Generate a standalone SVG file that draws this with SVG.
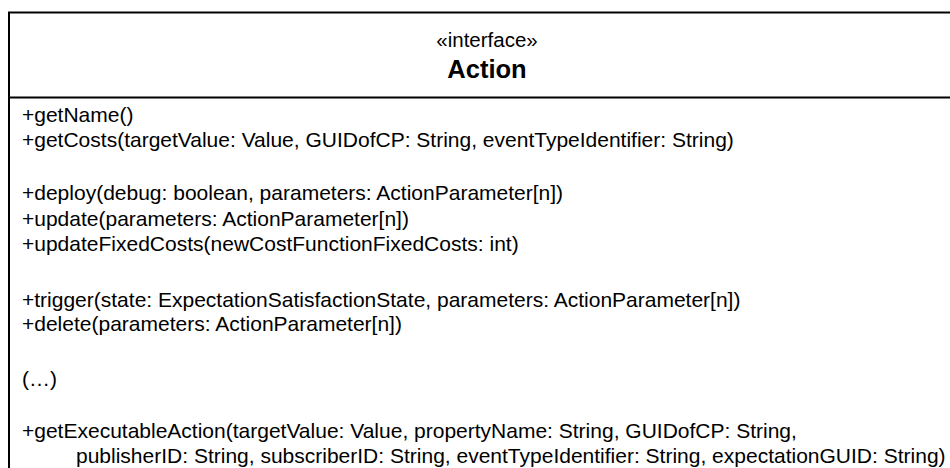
<svg xmlns="http://www.w3.org/2000/svg" width="950" height="468" viewBox="0 0 950 468">
  <style>
    .box { fill: #ffffff; stroke: #000000; stroke-width: 2; }
    .sep { stroke: #000000; stroke-width: 2; }
    .op { font-family: "Liberation Sans", Arial, Helvetica, sans-serif; font-size: 21px; fill: #000000; }
    .stereo { font-family: "Liberation Sans", Arial, Helvetica, sans-serif; font-size: 20.5px; fill: #000000; text-anchor: middle; }
    .name { font-family: "Liberation Sans", Arial, Helvetica, sans-serif; font-size: 25.5px; font-weight: bold; fill: #000000; text-anchor: middle; }
  </style>
  <rect x="0" y="0" width="950" height="468" fill="#ffffff"/>
  <g id="Action">
    <rect class="box" x="9" y="12.5" width="960" height="470"/>
    <line class="sep" x1="9" y1="97.5" x2="960" y2="97.5"/>
    <text class="stereo" x="487" y="47">«interface»</text>
    <text class="name" x="487" y="78">Action</text>
    <text class="op" x="22" y="122">+getName()</text>
    <text class="op" x="22" y="146.5">+getCosts(targetValue: Value, GUIDofCP: String, eventTypeIdentifier: String)</text>
    <text class="op" x="22" y="200">+deploy(debug: boolean, parameters: ActionParameter[n])</text>
    <text class="op" x="22" y="225.5">+update(parameters: ActionParameter[n])</text>
    <text class="op" x="22" y="251">+updateFixedCosts(newCostFunctionFixedCosts: int)</text>
    <text class="op" x="22" y="307">+trigger(state: ExpectationSatisfactionState, parameters: ActionParameter[n])</text>
    <text class="op" x="22" y="331">+delete(parameters: ActionParameter[n])</text>
    <text class="op" x="22" y="386">(…)</text>
    <text class="op" x="22" y="438">+getExecutableAction(targetValue: Value, propertyName: String, GUIDofCP: String,</text>
    <text class="op" x="76" y="463">publisherID: String, subscriberID: String, eventTypeIdentifier: String, expectationGUID: String)</text>
  </g>
</svg>
